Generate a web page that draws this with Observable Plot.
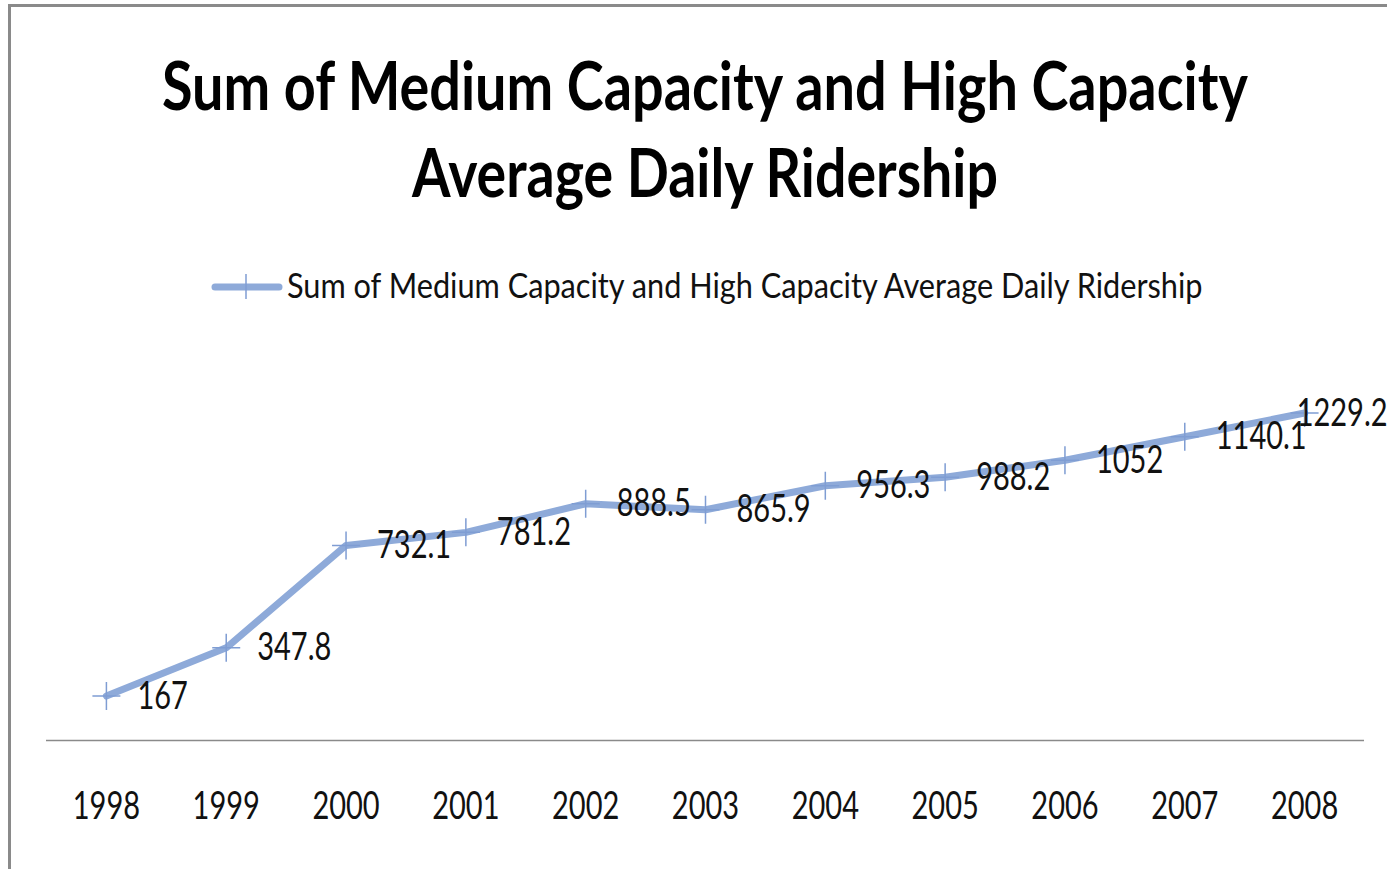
<!DOCTYPE html>
<html>
<head>
<meta charset="utf-8">
<script src="https://cdn.jsdelivr.net/npm/d3@7"></script>
<script src="https://cdn.jsdelivr.net/npm/@observablehq/plot@0.6"></script>
<style>
  html, body { margin: 0; padding: 0; background: #fff; }
  body { width: 1387px; height: 869px; overflow: hidden; position: relative; font-family: Lato, "Open Sans", sans-serif; }
  #frame { position: absolute; left: 8px; top: 4px; width: 1500px; height: 1000px; border: 3px solid #8a8a8a; pointer-events: none; }
  #header, #chart svg { display: block; }
</style>
</head>
<body>
<svg id="header" width="1387" height="330"></svg>
<div id="chart"></div>
<div id="frame"></div>
<script>
const years = ["1998", "1999", "2000", "2001", "2002", "2003", "2004", "2005", "2006", "2007", "2008"];
const ridership = [167, 347.8, 732.1, 781.2, 888.5, 865.9, 956.3, 988.2, 1052, 1140.1, 1229.2];
const titleLines = ["Sum of Medium Capacity and High Capacity", "Average Daily Ridership"];
const seriesName = "Sum of Medium Capacity and High Capacity Average Daily Ridership";

const lineColor = "#8eaad9";
const markColor = "#7f9dd3";
const data = years.map((y, i) => ({year: y, value: ridership[i], last: i === years.length - 1}));

// Header: title + legend. Each text is sized to the target width, then stretched vertically to the target height.
const header = d3.select("#header");
function fitText(str, x, baseline, width, size, weight, fill) {
  const t = header.append("text").attr("x", 0).attr("y", 0)
    .attr("font-family", "Lato, sans-serif").attr("font-weight", weight)
    .attr("font-size", size).attr("fill", fill).text(str);
  const natural = t.node().getComputedTextLength();
  const f = size * width / natural;
  t.attr("font-size", f)
   .attr("transform", `translate(${x},${baseline}) scale(1,${size / f})`);
  return t;
}
fitText(titleLines[0], 162, 110, 1086, 66, 700, "#000");
fitText(titleLines[1], 412, 197, 586, 66, 700, "#000");
header.append("line").attr("x1", 215).attr("x2", 279).attr("y1", 287).attr("y2", 287)
  .attr("stroke", lineColor).attr("stroke-width", 7).attr("stroke-linecap", "round");
header.append("line").attr("x1", 246).attr("x2", 246).attr("y1", 274).attr("y2", 299)
  .attr("stroke", markColor).attr("stroke-width", 1.5);
fitText(seriesName, 287, 298, 916, 35, 400, "#111");

const plusSymbol = {
  draw(context, size) {
    const r = Math.sqrt(size / Math.PI);
    context.moveTo(-r, 0); context.lineTo(r, 0);
    context.moveTo(0, -r); context.lineTo(0, r);
  }
};

const chart = Plot.plot({
  width: 1387,
  height: 539,
  marginLeft: 46,
  marginRight: 23,
  marginTop: 37,
  marginBottom: 129,
  style: {fontFamily: "Lato, sans-serif", background: "#fff", color: "#111"},
  x: {type: "point", domain: years, padding: 0.5, round: false, label: null},
  y: {domain: [0, 1400], axis: null},
  marks: [
    Plot.ruleY([0], {stroke: "#8a8a8a", strokeWidth: 1.5}),
    Plot.axisX({tickSize: 0, tickPadding: 66, lineAnchor: "middle", fontSize: 29, fill: "#111", label: null}),
    Plot.line(data, {x: "year", y: "value", stroke: lineColor, strokeWidth: 7, strokeLinejoin: "round", strokeLinecap: "round"}),
    Plot.dot(data, {x: "year", y: "value", symbol: plusSymbol, r: 14, fill: "none", stroke: markColor, strokeWidth: 1.5}),
    Plot.text(data.filter(d => !d.last), {x: "year", y: "value", text: d => String(d.value), textAnchor: "start", lineAnchor: "middle", dx: 31, fontSize: 29, fill: "#111"}),
    Plot.text(data.filter(d => d.last), {x: "year", y: "value", text: d => String(d.value), textAnchor: "end", lineAnchor: "middle", dx: 83, fontSize: 29, fill: "#111"})
  ]
});

// Stretch text vertically to mimic the reference's tall glyphs
chart.querySelectorAll("text").forEach(t => {
  const tr = t.getAttribute("transform");
  if (tr) t.setAttribute("transform", tr + " scale(1,1.35)");
});

document.getElementById("chart").appendChild(chart);
</script>
</body>
</html>
